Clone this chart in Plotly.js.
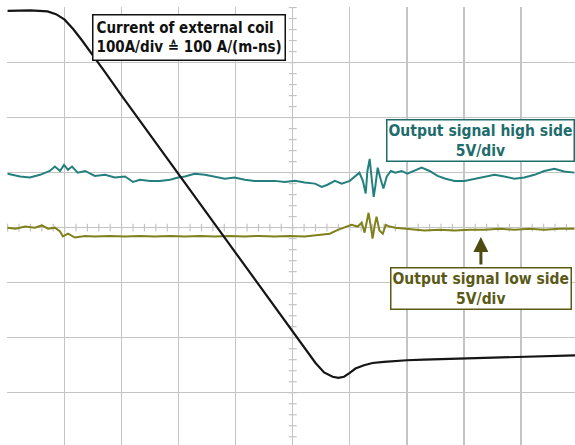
<!DOCTYPE html>
<html>
<head>
<meta charset="utf-8">
<script src="https://cdn.plot.ly/plotly-3.0.1.min.js"></script>
<style>html,body{margin:0;padding:0;background:#fff;}#chart{width:575px;height:445px;}</style>
</head>
<body>
<div id="chart"></div>
<script>
// Time axis in divisions (10 div), vertical in divisions (8 div)
const coilX = [-5.0,-4.6,-4.3,-4.15,-4.0,-3.85,-3.7,-3.5,-3.3,-3.0,-2.7,-2.4,-2.1,-1.8,-1.5,-1.2,-0.9,-0.6,-0.3,0.0,0.2,0.4,0.55,0.7,0.8,0.9,1.0,1.1,1.25,1.4,1.6,1.8,2.0,2.3,2.6,2.9,3.2,3.5,3.8,4.1,4.4,4.7,4.95];
const coilY = [3.94,3.95,3.93,3.88,3.78,3.61,3.41,3.13,2.84,2.40,1.97,1.54,1.11,0.68,0.25,-0.18,-0.61,-1.04,-1.47,-1.89,-2.18,-2.46,-2.63,-2.71,-2.73,-2.71,-2.64,-2.56,-2.50,-2.46,-2.44,-2.42,-2.41,-2.40,-2.39,-2.38,-2.37,-2.36,-2.36,-2.35,-2.34,-2.33,-2.32];

const highX = [-5.0,-4.78,-4.61,-4.43,-4.26,-4.17,-4.08,-4.01,-3.94,-3.87,-3.77,-3.64,-3.47,-3.29,-3.12,-2.94,-2.80,-2.68,-2.50,-2.33,-2.15,-2.01,-1.89,-1.72,-1.54,-1.37,-1.19,-1.02,-0.84,-0.67,-0.49,-0.32,-0.14,0.04,0.21,0.39,0.51,0.61,0.74,0.86,1.0,1.09,1.17,1.23,1.28,1.31,1.35,1.38,1.42,1.45,1.49,1.54,1.59,1.65,1.72,1.80,1.91,2.01,2.14,2.26,2.40,2.54,2.68,2.84,3.01,3.19,3.36,3.54,3.71,3.89,4.06,4.24,4.41,4.59,4.76,4.94];
const highY = [0.98,0.93,0.91,0.96,1.03,1.11,1.03,1.14,1.05,1.11,1.0,1.03,0.94,0.96,0.91,0.93,0.83,0.87,0.85,0.85,0.87,0.91,0.93,0.98,0.96,0.93,0.89,0.91,0.87,0.85,0.85,0.85,0.83,0.85,0.82,0.80,0.74,0.78,0.85,0.80,0.85,0.93,1.0,0.85,0.62,1.03,1.25,0.94,0.56,0.76,1.09,0.89,0.71,0.93,1.03,1.0,1.03,0.98,1.03,1.09,1.03,0.94,0.89,0.85,0.85,0.89,0.93,0.96,0.93,0.89,0.91,0.96,1.03,1.07,1.02,1.0];

const lowX = [-5.0,-4.86,-4.69,-4.52,-4.40,-4.29,-4.17,-4.08,-4.03,-3.94,-3.82,-3.64,-3.47,-3.20,-2.94,-2.68,-2.42,-2.15,-1.89,-1.63,-1.37,-1.10,-0.84,-0.58,-0.32,-0.05,0.21,0.47,0.65,0.79,0.91,1.03,1.14,1.21,1.26,1.30,1.33,1.37,1.40,1.44,1.47,1.52,1.58,1.63,1.70,1.80,1.96,2.14,2.31,2.57,2.84,3.10,3.36,3.63,3.89,4.15,4.41,4.68,4.94];
const lowY = [0.0,-0.02,0.02,0.0,0.04,-0.02,0.0,-0.07,-0.16,-0.11,-0.18,-0.15,-0.16,-0.15,-0.16,-0.15,-0.16,-0.15,-0.16,-0.15,-0.16,-0.15,-0.16,-0.15,-0.16,-0.15,-0.16,-0.13,-0.11,-0.04,0.0,0.05,0.02,0.09,-0.09,0.16,0.27,0.02,-0.2,0.05,0.2,-0.05,-0.11,0.05,0.02,0.0,-0.02,-0.04,-0.05,-0.04,-0.05,-0.04,-0.04,-0.02,-0.04,-0.02,-0.04,-0.02,-0.02];

const coilLabel = "Current of external coil<br>100A/div ≙ 100 A/(m-ns)";
const highLabel = "Output signal high side<br>5V/div";
const lowLabel = "Output signal low side<br>5V/div";

const GRID = "#c4c4c4";
const FONT = "Liberation Sans Narrow, Arial Narrow, DejaVu Sans Condensed, sans-serif";

const traces = [
  {x: highX, y: highY, mode: "lines", line: {color: "#23807f", width: 2}, hoverinfo: "skip"},
  {x: lowX, y: lowY, mode: "lines", line: {color: "#80801c", width: 2}, hoverinfo: "skip"},
  {x: coilX, y: coilY, mode: "lines", line: {color: "#151515", width: 2.2}, hoverinfo: "skip"}
];

// minor ticks on the centre cross
const shapes = [];
for (let i = -25; i <= 25; i++) {
  const v = i / 5;
  shapes.push({type: "line", xref: "x", yref: "y", x0: v, x1: v, y0: -0.07, y1: 0.07, line: {color: GRID, width: 1.2}, layer: "below"});
}
for (let i = -20; i <= 20; i++) {
  const v = i / 5;
  shapes.push({type: "line", xref: "x", yref: "y", x0: -0.07, x1: 0.07, y0: v, y1: v, line: {color: GRID, width: 1.2}, layer: "below"});
}

const layout = {
  width: 575, height: 445,
  margin: {l: 7, r: 0, t: 7, b: 0},
  paper_bgcolor: "#ffffff", plot_bgcolor: "#ffffff",
  showlegend: false,
  xaxis: {range: [-5.01, 4.95], dtick: 1, tick0: 0, showgrid: true, gridcolor: GRID, gridwidth: 1.5,
          zeroline: true, zerolinecolor: GRID, zerolinewidth: 1.5, showticklabels: false, ticks: "", showline: false, fixedrange: true},
  yaxis: {range: [-3.95, 4.01], dtick: 1, tick0: 0, showgrid: true, gridcolor: GRID, gridwidth: 1.5,
          zeroline: true, zerolinecolor: GRID, zerolinewidth: 1.5, showticklabels: false, ticks: "", showline: false, fixedrange: true},
  shapes: shapes,
  annotations: [
    {x: -1.82, y: 3.45, xref: "x", yref: "y", text: "<b>" + coilLabel + "</b>", showarrow: false,
     font: {family: FONT, size: 15, color: "#111"}, bgcolor: "#fff", bordercolor: "#111", borderwidth: 1.5, borderpad: 3, align: "left"},
    {x: 3.3, y: 1.58, xref: "x", yref: "y", text: "<b>" + highLabel + "</b>", showarrow: false,
     font: {family: FONT, size: 15.5, color: "#1e6d6c"}, bgcolor: "#fff", bordercolor: "#1e6d6c", borderwidth: 1.5, borderpad: 1, align: "center"},
    {x: 3.31, y: -1.11, xref: "x", yref: "y", text: "<b>" + lowLabel + "</b>", showarrow: false,
     font: {family: FONT, size: 15.5, color: "#5a5a16"}, bgcolor: "#fff", bordercolor: "#5a5a16", borderwidth: 1.5, borderpad: 1, align: "center"},
    {x: 3.3, y: -0.17, xref: "x", yref: "y", text: "", showarrow: true, ax: 0, ay: 29,
     arrowhead: 2, arrowsize: 1, arrowwidth: 3, arrowcolor: "#4d4d12"}
  ]
};

Plotly.newPlot("chart", traces, layout, {staticPlot: true, displayModeBar: false});
</script>
</body>
</html>
